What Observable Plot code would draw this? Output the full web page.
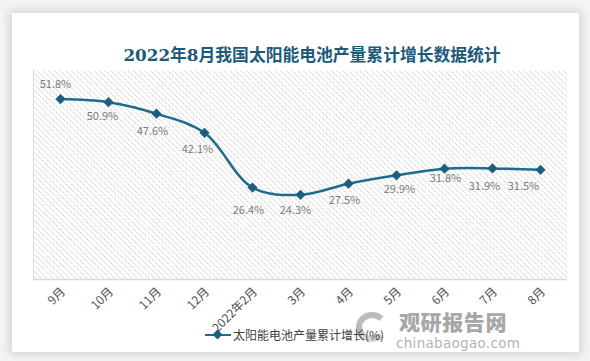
<!DOCTYPE html>
<html>
<head>
<meta charset="utf-8">
<script src="https://cdn.jsdelivr.net/npm/d3@7"></script>
<script src="https://cdn.jsdelivr.net/npm/@observablehq/plot@0.6"></script>
<style>
  html, body { margin: 0; padding: 0; background: #ffffff; }
  #page { position: relative; width: 590px; height: 361px; overflow: hidden; background: #f4f4f4; }
  #card { position: absolute; left: 12px; top: 13px; width: 567px; height: 339px; background: #ffffff;
          box-shadow: 0 0 9px 3px rgba(0,0,0,0.13); }
  #title { position: absolute; left: 0; width: 624px; top: 42px; text-align: center;
           font-family: "DejaVu Serif", "Noto Sans CJK SC", serif; font-weight: bold; font-size: 16.8px;
           color: #1d5a7a; white-space: nowrap; letter-spacing: 0px; }
  #chart { position: absolute; left: 0; top: 0; }
  #legend { position: absolute; left: 205px; top: 328px; font-family: "Noto Sans CJK SC", sans-serif;
            font-size: 12px; line-height: 14px; color: #404040; display: flex; align-items: center; white-space: nowrap; }
  #legend .sw { position: relative; width: 26px; height: 2.5px; background: #1f6b8d; margin-right: 2px; }
  #legend .sw::after { content: ""; position: absolute; left: 9px; top: -3px; width: 7px; height: 7px;
                       background: #1b5f80; transform: rotate(45deg); }
  #wm { position: absolute; left: 352px; top: 310px; color: #8c8c8c; opacity: 0.75; font-family: "Noto Sans CJK SC", sans-serif; }
  #wm .big { position: absolute; left: 47px; top: 1px; font-size: 21px; line-height: 21px; font-weight: 900; letter-spacing: 0.6px; white-space: nowrap; color:#8a8a8a;}
  #wm .small { position: absolute; left: 44px; top: 27px; font-size: 13.5px; line-height: 13px; white-space: nowrap; color:#9a9a9a; font-family: "DejaVu Sans", sans-serif; letter-spacing:0.3px;}
  #wm .logo { position: absolute; left: 4px; top: 2px; width: 32px; height: 30px; border-radius: 50%;
              border: 6px solid #a6a6a6; border-right-color: transparent; border-bottom-color: #c4c4c4; box-sizing: border-box; }
</style>
</head>
<body>
<div id="page">
  <div id="card"></div>
  <div id="title">2022年8月我国太阳能电池产量累计增长数据统计</div>
  <div id="chart"></div>
  <div id="wm"><div class="logo"></div><div class="big">观研报告网</div><div class="small">chinabaogao.com</div></div>
  <div id="legend"><span class="sw"></span><span>太阳能电池产量累计增长(%)</span></div>
</div>
<script>
const months = ["9月", "10月", "11月", "12月", "2022年2月", "3月", "4月", "5月", "6月", "7月", "8月"];
const growth = [51.8, 50.9, 47.6, 42.1, 26.4, 24.3, 27.5, 29.9, 31.8, 31.9, 31.5];
const labels = ["51.8%", "50.9%", "47.6%", "42.1%", "26.4%", "24.3%", "27.5%", "29.9%", "31.8%", "31.9%", "31.5%"];
// label placement offsets (dx, dy) in pixels
const labelDx = [-5, -6, -4, -7, -4, -5, -4, 3, 1, -8, -17];
const labelDy = [-15, 14, 18, 17, 23, 16, 17, 14, 10, 18, 17];

const data = months.map((m, i) => ({month: m, value: growth[i], label: labels[i]}));

const labelMarks = data.map((d, i) =>
  Plot.text([d], {x: "month", y: "value", text: "label", dx: labelDx[i], dy: labelDy[i],
    fill: "#7a7a7a", fontSize: 11})
);

const chart = Plot.plot({
  width: 590,
  height: 335,
  marginLeft: 33,
  marginRight: 23,
  marginTop: 70,
  marginBottom: 56,
  style: {fontFamily: "'Noto Sans CJK SC', sans-serif", fontSize: "12px", color: "#505050", background: "transparent", overflow: "visible"},
  x: {type: "point", domain: months, padding: 0.5, label: null, tickSize: 0, tickRotate: -45, tickPadding: 13},
  y: {domain: [0, 60], axis: null},
  marks: [
    Plot.frame({fill: "url(#hatch)", stroke: null}),
    Plot.frame({anchor: "left", stroke: "#d9d9d9"}),
    Plot.ruleY([0], {stroke: "#d9d9d9", strokeWidth: 1.5}),
    Plot.line(data, {x: "month", y: "value", curve: "catmull-rom", stroke: "#1f6b8d", strokeWidth: 2.5}),
    Plot.dot(data, {x: "month", y: "value", symbol: "diamond2", r: 4.6, fill: "#1b5f80", stroke: "none"}),
    ...labelMarks
  ]
});

d3.select(chart).insert("defs", ":first-child").html(
  `<pattern id="hatch" width="4" height="4" patternUnits="userSpaceOnUse" patternTransform="rotate(-45)">
     <rect width="4" height="4" fill="#ffffff"/>
     <line x1="0.5" y1="0" x2="0.5" y2="4" stroke="#bdbdbd" stroke-width="0.9" stroke-dasharray="1 1"/>
   </pattern>`
);
d3.select(chart).selectAll("g[aria-label='x-axis tick label'] text").attr("dx", "4");

document.getElementById("chart").appendChild(chart);
</script>
</body>
</html>
